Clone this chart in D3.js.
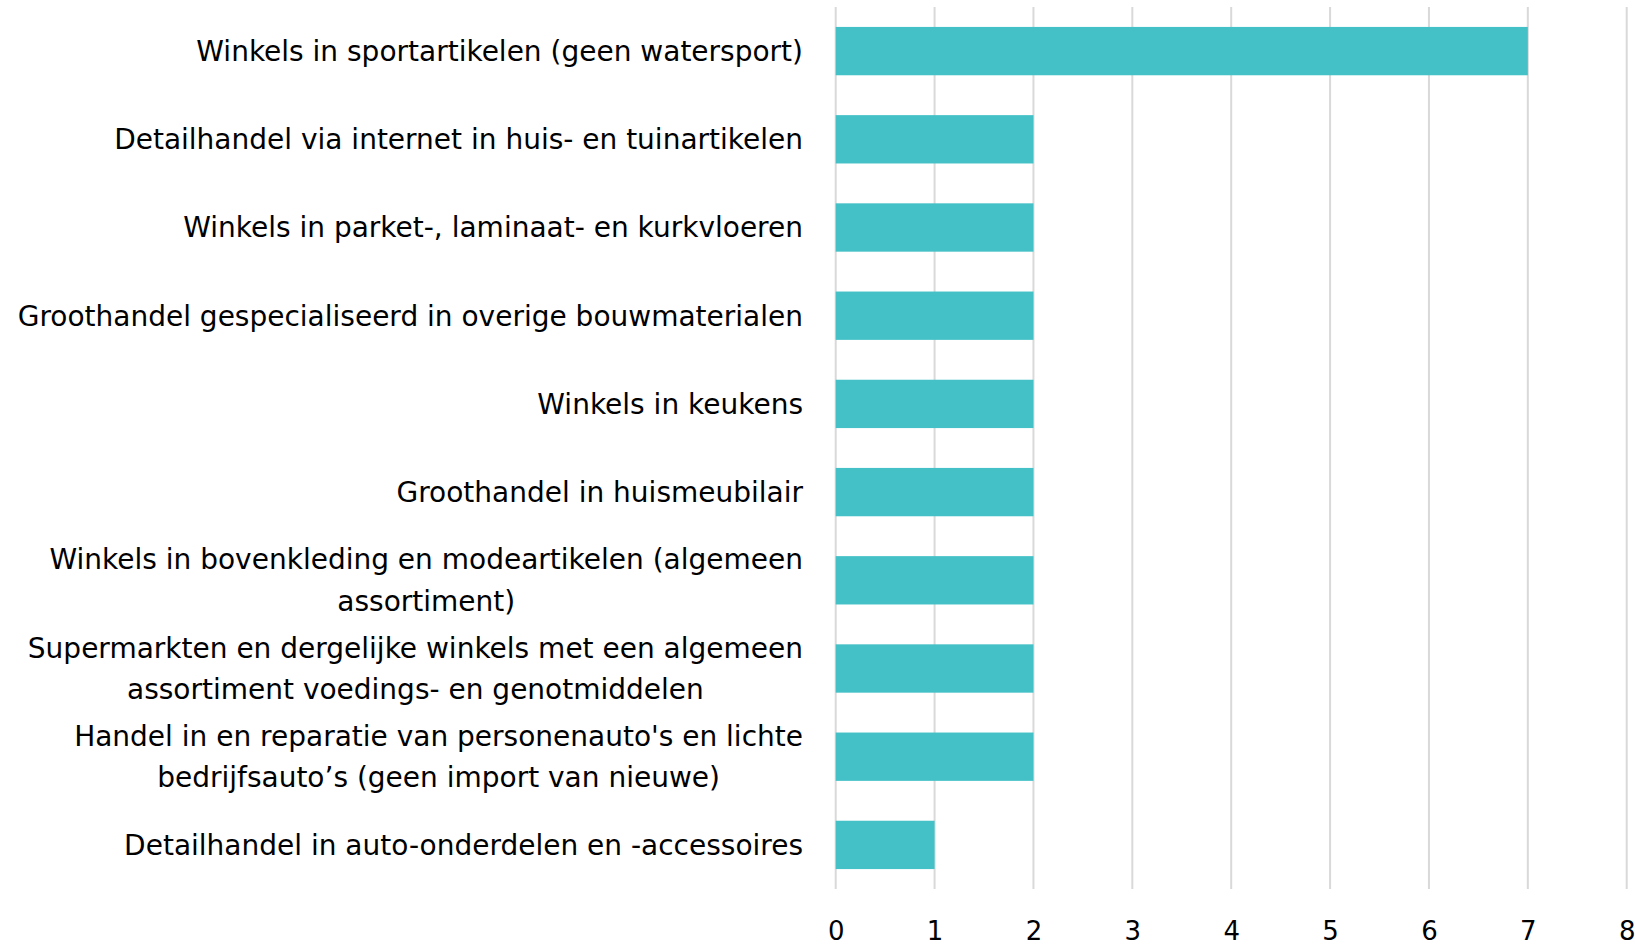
<!DOCTYPE html>
<html>
<head>
<meta charset="utf-8">
<script src="https://cdn.jsdelivr.net/npm/d3@7"></script>
<style>
  html, body { margin: 0; padding: 0; background: #fff; }
  svg { display: block; }
  text { font-family: "DejaVu Sans", sans-serif; fill: #000; }
</style>
</head>
<body>
<svg id="chart" width="1635" height="947"></svg>
<script>
const categories = [
  "Winkels in sportartikelen (geen watersport)",
  "Detailhandel via internet in huis- en tuinartikelen",
  "Winkels in parket-, laminaat- en kurkvloeren",
  "Groothandel gespecialiseerd in overige bouwmaterialen",
  "Winkels in keukens",
  "Groothandel in huismeubilair",
  "Winkels in bovenkleding en modeartikelen (algemeen assortiment)",
  "Supermarkten en dergelijke winkels met een algemeen assortiment voedings- en genotmiddelen",
  "Handel in en reparatie van personenauto's en lichte bedrijfsauto’s (geen import van nieuwe)",
  "Detailhandel in auto-onderdelen en -accessoires"
];
const values = [7, 2, 2, 2, 2, 2, 2, 2, 2, 1];
const xTicks = [0, 1, 2, 3, 4, 5, 6, 7, 8];

const svg = d3.select("#chart");
const x0 = 835.7, x1 = 1626.7, yTop = 7, yBot = 889;
const fontSize = 28;
const tickFontSize = 26;

const x = d3.scaleLinear().domain([0, 8]).range([x0, x1]);
const y = d3.scaleBand().domain(categories).range([yTop, yBot])
  .paddingInner(0.452).paddingOuter(0.226);

// gridlines
svg.append("g").selectAll("line").data(xTicks).join("line")
  .attr("x1", d => x(d)).attr("x2", d => x(d))
  .attr("y1", yTop).attr("y2", yBot)
  .attr("stroke", "#d9d9d9").attr("stroke-width", 2);

// bars
svg.append("g").selectAll("rect").data(values).join("rect")
  .attr("x", x(0))
  .attr("y", (d, i) => y(categories[i]))
  .attr("width", d => x(d) - x(0))
  .attr("height", y.bandwidth())
  .attr("fill", "#43c1c6");

// x axis labels
const xAxis = d3.axisBottom(x).tickValues(xTicks).tickSize(0).tickPadding(0).tickFormat(d3.format("d"));
const gx = svg.append("g").attr("transform", `translate(0,940)`).call(xAxis);
gx.select(".domain").remove();
gx.selectAll("text").attr("dy", "0").attr("y", 0)
  .style("font-family", '"DejaVu Sans", sans-serif').style("font-size", tickFontSize + "px").attr("fill", "#000");

// category labels with wrapping
const maxW = 800;
const labelX = 803;
const lineH = 41.5;
const gy = svg.append("g");
const measure = svg.append("text").style("font-size", fontSize + "px").attr("visibility", "hidden");
function textW(s) { measure.text(s); return measure.node().getComputedTextLength(); }
function wrap(str) {
  const words = str.split(" ");
  const lines = [];
  let cur = "";
  for (const w of words) {
    const t = cur ? cur + " " + w : w;
    if (textW(t) > maxW && cur) { lines.push(cur); cur = w; }
    else cur = t;
  }
  if (cur) lines.push(cur);
  return lines;
}
categories.forEach(c => {
  const lines = wrap(c);
  const cy = y(c) + y.bandwidth() / 2;
  const wmax = d3.max(lines, textW);
  const t = gy.append("text")
    .attr("text-anchor", lines.length > 1 ? "middle" : "end")
    .style("font-size", fontSize + "px");
  lines.forEach((ln, k) => {
    t.append("tspan")
      .attr("x", lines.length > 1 ? labelX - wmax / 2 : labelX)
      .attr("y", cy + (k - (lines.length - 1) / 2) * lineH)
      .attr("dy", "0.35em").text(ln);
  });
});
measure.remove();
</script>
</body>
</html>
